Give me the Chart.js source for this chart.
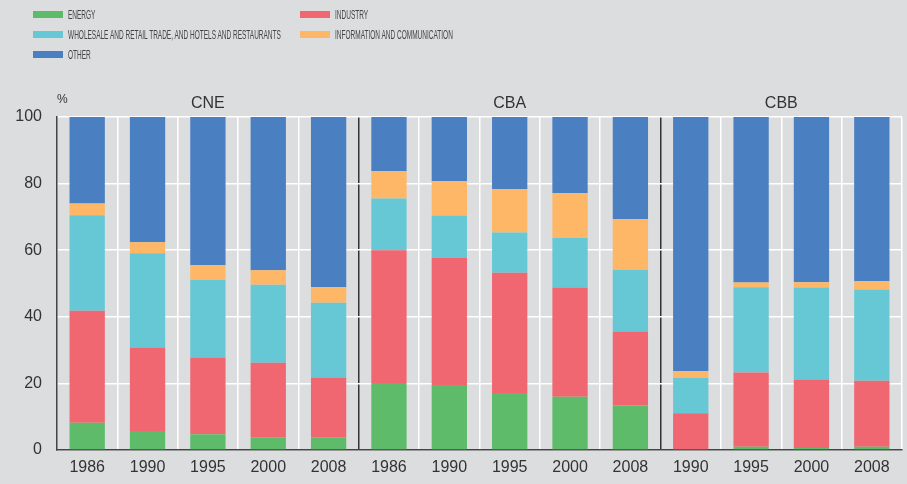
<!DOCTYPE html>
<html lang="en">
<head>
    <meta charset="UTF-8">
    <title>Value added by sector</title>
    <script src="https://cdn.jsdelivr.net/npm/chart.js"></script>
    <style>
        body {
            margin: 0;
            background-color: #dcdddf;
            font-family: 'Liberation Sans', Arial, sans-serif;
        }

        .wrap {
            position: relative;
            width: 907px;
            height: 484px;
        }

        #legend {
            position: absolute;
            left: 33px;
            top: 4px;
            display: grid;
            grid-template-columns: 267px 300px;
            row-gap: 0;
        }

        .item {
            height: 20px;
            display: flex;
            align-items: center;
            white-space: nowrap;
        }

        .swatch {
            width: 30px;
            height: 7px;
            margin-right: 5px;
            flex: none;
        }

        .label {
            font-size: 13px;
            color: #444;
            display: inline-block;
            transform: scaleX(0.5);
            transform-origin: left center;
        }
    </style>
</head>
<body>
    <div class="wrap">
        <div id="legend"></div>
        <canvas id="myChart" width="907" height="484"></canvas>
    </div>

    <script>
        // years per bar, three regions side by side
        const years = ['1986', '1990', '1995', '2000', '2008',
                       '1986', '1990', '1995', '2000', '2008',
                       '1990', '1995', '2000', '2008'];
        const groups = ['CNE', 'CBA', 'CBB'];
        const groupSizes = [5, 5, 4];

        // shares in %
        const energy    = [8.2, 5.7, 4.7, 3.8, 3.8,   20.1, 19.5, 17.1, 16.0, 13.4,   0.2, 1.0, 0.6, 1.0];
        const industry  = [33.6, 25.1, 23.1, 22.4, 18.0,   39.9, 38.2, 36.1, 32.8, 22.2,   10.8, 22.3, 20.6, 19.8];
        const wholesale = [28.7, 28.3, 23.3, 23.4, 22.4,   15.5, 12.7, 12.1, 14.9, 18.5,   10.7, 25.6, 27.6, 27.4];
        const infoComm  = [3.5, 3.3, 4.4, 4.4, 4.7,   8.2, 10.3, 13.0, 13.4, 15.2,   2.0, 1.4, 1.6, 2.5];
        const other     = [26.0, 37.6, 44.5, 46.0, 51.1,   16.3, 19.3, 21.7, 22.9, 30.7,   76.3, 49.7, 49.6, 49.3];

        const yTicks = [0, 20, 40, 60, 80, 100];

        const series = [
            { label: 'ENERGY', data: energy, color: '#5dbb6a' },
            { label: 'INDUSTRY', data: industry, color: '#f06671' },
            { label: 'WHOLESALE AND RETAIL TRADE, AND HOTELS AND RESTAURANTS', data: wholesale, color: '#67c8d5' },
            { label: 'INFORMATION AND COMMUNICATION', data: infoComm, color: '#fdb766' },
            { label: 'OTHER', data: other, color: '#4a7fc1' }
        ];

        // legend in two columns
        const legend = document.getElementById('legend');
        series.forEach(s => {
            const item = document.createElement('div');
            item.className = 'item';
            item.innerHTML = '<span class="swatch" style="background:' + s.color + '"></span>' +
                '<span class="label">' + s.label + '</span>';
            legend.appendChild(item);
        });

        // separator positions: index of first bar in each group after the first
        const separators = [];
        let acc = 0;
        groupSizes.forEach((n, i) => { if (i > 0) separators.push(acc); acc += n; });

        // group titles and % sign over the plot
        const groupTitles = {
            id: 'groupTitles',
            afterDraw(chart) {
                const ctx = chart.ctx;
                const x = chart.scales.x;
                const top = chart.chartArea.top;
                ctx.save();
                ctx.fillStyle = '#333';
                ctx.font = '16px "Liberation Sans", Arial, sans-serif';
                ctx.textAlign = 'center';
                ctx.textBaseline = 'middle';
                let start = 0;
                groups.forEach((g, i) => {
                    const end = start + groupSizes[i] - 1;
                    const cx = (x.getPixelForValue(start) + x.getPixelForValue(end)) / 2;
                    ctx.fillText(g, cx, top - 13);
                    start = end + 1;
                });
                ctx.font = '12px "Liberation Sans", Arial, sans-serif';
                ctx.textAlign = 'left';
                ctx.fillText('%', chart.chartArea.left, top - 17);
                ctx.restore();
            }
        };

        const ctx = document.getElementById('myChart').getContext('2d');
        window.myChart = new Chart(ctx, {
            type: 'bar',
            data: {
                labels: years,
                datasets: series.map(s => ({
                    label: s.label,
                    data: s.data,
                    backgroundColor: s.color,
                    borderWidth: 0,
                    barPercentage: 0.585,
                    categoryPercentage: 1
                }))
            },
            options: {
                responsive: false,
                animation: false,
                layout: {
                    padding: { top: 117, right: 5, left: 0, bottom: 0 }
                },
                plugins: {
                    legend: { display: false },
                    tooltip: { enabled: false }
                },
                scales: {
                    x: {
                        stacked: true,
                        afterFit(scale) { scale.height = 34; },
                        grid: {
                            offset: true,
                            drawTicks: false,
                            color: c => separators.includes(c.index) ? '#333' : (c.index === 0 ? 'rgba(0,0,0,0)' : '#ffffff'),
                            lineWidth: 1.5
                        },
                        border: { display: true, color: '#444', width: 1.5 },
                        ticks: {
                            color: '#333',
                            font: { size: 16 },
                            maxRotation: 0,
                            autoSkip: false,
                            padding: 8
                        }
                    },
                    y: {
                        stacked: true,
                        min: 0,
                        max: 100,
                        afterFit(scale) { scale.width = 57; },
                        afterBuildTicks(scale) { scale.ticks = yTicks.map(v => ({ value: v })); },
                        grid: {
                            color: '#ffffff',
                            lineWidth: 1.5,
                            drawTicks: false
                        },
                        border: { display: true, color: '#444', width: 1.5 },
                        ticks: {
                            color: '#333',
                            font: { size: 16 },
                            padding: 15
                        }
                    }
                }
            },
            plugins: [groupTitles]
        });
    </script>
</body>
</html>
